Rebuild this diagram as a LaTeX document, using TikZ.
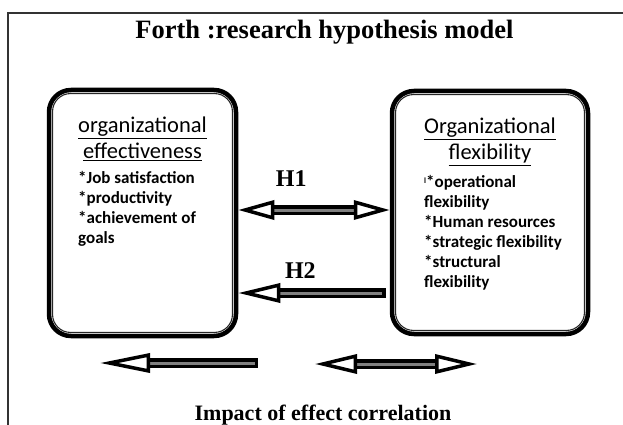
\documentclass[tikz,border=0pt]{standalone}
\usepackage{fontspec}
\setmainfont{Liberation Serif}
\newfontfamily\calfont{Carlito}
\usetikzlibrary{arrows.meta, positioning}

\begin{document}
\begin{tikzpicture}[
    x=1pt, y=-1pt,
    box/.style={rectangle, draw, line width=4.5pt, rounded corners=22pt},
    innerrim/.style={draw=black!85, line width=1.1pt, rounded corners=18pt},
    heading/.style={font=\calfont\fontsize{22.5}{26}\selectfont, align=center},
    items/.style={font=\calfont\bfseries\fontsize{17}{20}\selectfont, align=left},
    hlabel/.style={font=\bfseries\fontsize{24}{28}\selectfont},
    fat/.style={draw=black, line width=3.5pt, double=gray, double distance=3pt, line cap=rect},
    oneway/.style={fat, -{Triangle[fill=white, length=#1, width=19pt, line width=3.5pt]}},
    twoway/.style={fat, {Triangle[fill=white, length=#1, width=19pt, line width=3.5pt]}-{Triangle[fill=white, length=#1, width=19pt, line width=3.5pt]}}
]
    \useasboundingbox (0,0) rectangle (623,425);

    % Frame and title
    \draw[line width=1.2pt, black!80] (8,425) -- (8,13) -- (623,13);
    \node[font=\bfseries\fontsize{26.5}{30}\selectfont, anchor=base] (title) at (324.5,39) {Forth :research hypothesis model};

    % Left box
    \node[box, minimum width=187pt, minimum height=246pt] (effect_box) at (142.5,213) {};
    \draw[innerrim] ([shift={(5.8pt,-5.8pt)}]effect_box.north west) rectangle ([shift={(-5.8pt,5.8pt)}]effect_box.south east);
    \node[heading, below=26pt of effect_box.north] (effect_title) {\underline{organizational}\\\underline{effectiveness}};
    \node[items, below=3pt of effect_title.south west, anchor=north west] (effect_items) {*Job satisfaction\\{}*productivity\\{}*achievement of\\goals};

    % Right box
    \node[box, minimum width=196pt, minimum height=243pt] (flex_box) at (490,212.5) {};
    \draw[innerrim] ([shift={(5.8pt,-5.8pt)}]flex_box.north west) rectangle ([shift={(-5.8pt,5.8pt)}]flex_box.south east);
    \node[heading, below=26pt of flex_box.north] (flex_title) {\underline{Organizational}\\\underline{flexibility}};
    \node[items, below=3pt of flex_title.south west, anchor=north west] (flex_items) {\raisebox{4pt}{\fontsize{8}{8}\selectfont l}*operational\\flexibility\\{}*Human resources\\{}*strategic flexibility\\{}*structural\\flexibility};

    % Hypotheses
    \coordinate (h1) at (0,210);
    \coordinate (h2) at (0,293);
    \draw[twoway=36pt] (effect_box.east |- h1) -- node[hlabel, pos=0.35, above=18pt] (h1_label) {H1} (flex_box.west |- h1);
    \draw[oneway=42pt, shorten <=9pt] (flex_box.west |- h2) -- node[hlabel, pos=0.59, above=9pt] (h2_label) {H2} (effect_box.east |- h2);

    % Legend
    \coordinate (one_tail) at (253,363);
    \coordinate (one_tip) at (100,363);
    \draw[oneway=50pt] (one_tail) -- (one_tip);
    \coordinate (two_left) at (315,364);
    \coordinate (two_right) at (477,364);
    \draw[twoway=42pt] (two_left) -- (two_right);
    \node[font=\bfseries\fontsize{22}{25}\selectfont, anchor=base] (caption) at (323,420) {Impact of effect correlation};

\end{tikzpicture}
\end{document}
